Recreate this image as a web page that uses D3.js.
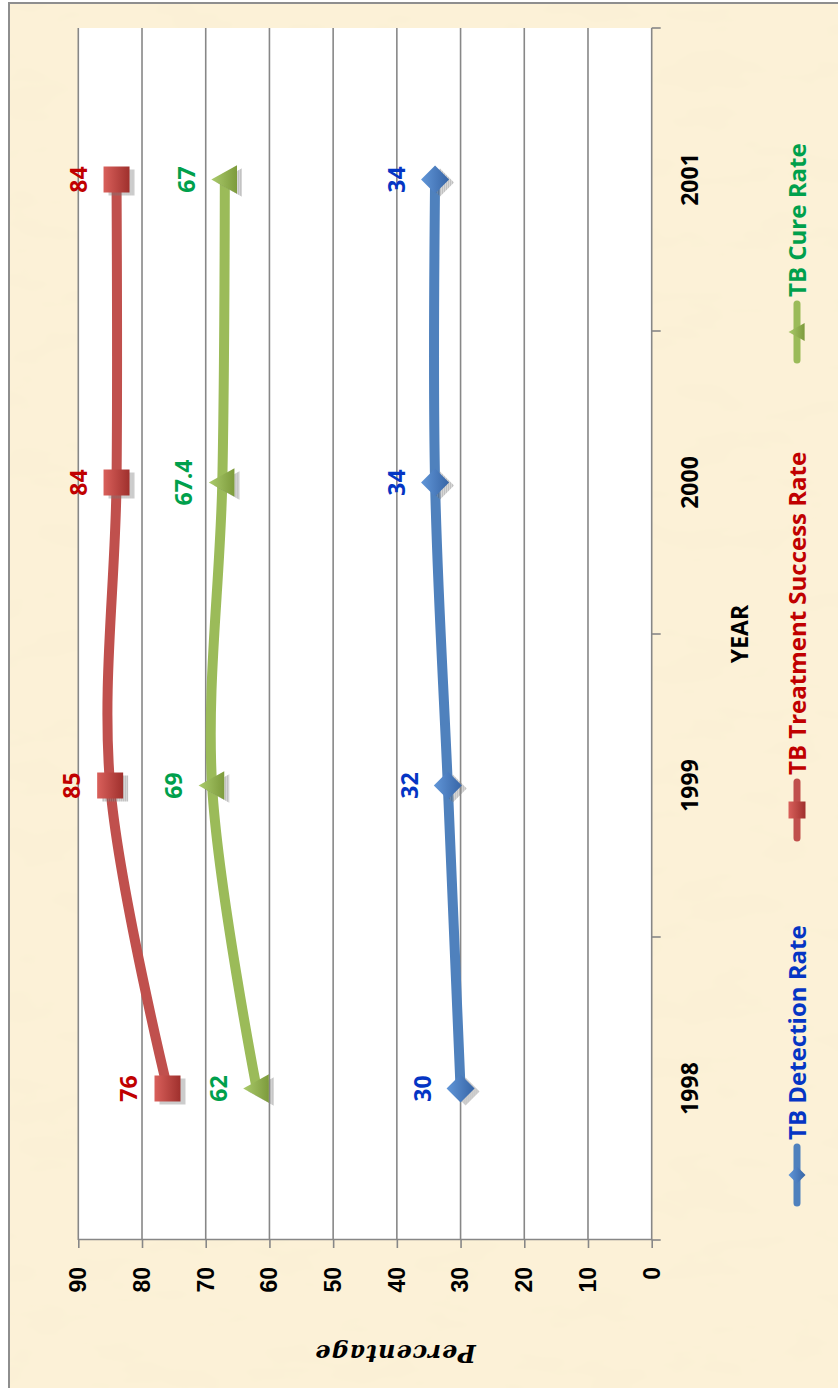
<!DOCTYPE html>
<html>
<head>
<meta charset="utf-8">
<script src="https://cdn.jsdelivr.net/npm/d3@7"></script>
<style>
  body { margin: 0; background: #fff; }
  svg { display: block; }
</style>
</head>
<body>
<div id="chart"></div>
<script>
// data
const years = ['1998', '1999', '2000', '2001'];
const detectionRate = [30, 32, 34, 34];
const treatmentRate = [76, 85, 84, 84];
const cureRate = [62, 69, 67.4, 67];
const seriesNames = ['TB Detection Rate', 'TB Treatment Success Rate', 'TB Cure Rate'];
const valueTicks = [0, 10, 20, 30, 40, 50, 60, 70, 80, 90];

// styles
const lineColors = ['#4f81bd', '#c0504d', '#9bbb59'];
const textColors = ['#0535c4', '#c00000', '#00a04c'];
const gradColors = [['#6196d8', '#3765a6'], ['#d9605b', '#9f302d'], ['#abcb6c', '#7d9b3c']];
const shapes = ['diamond', 'square', 'triangle'];

const series = [detectionRate, treatmentRate, cureRate].map((vals, i) => ({
  name: seriesNames[i],
  points: years.map((yr, j) => ({ year: yr, v: vals[j] })),
  i: i
}));

// the chart is laid out as a normal line chart, then turned a quarter left
const W = 1388, H = 838;
const svg = d3.select('#chart').append('svg')
  .attr('width', H)
  .attr('height', W);

const defs = svg.append('defs');

const paper = defs.append('filter').attr('id', 'paper')
  .attr('x', 0).attr('y', 0).attr('width', '100%').attr('height', '100%');
paper.append('feTurbulence')
  .attr('type', 'fractalNoise')
  .attr('baseFrequency', '0.03 0.012')
  .attr('numOctaves', 3)
  .attr('seed', 7);
paper.append('feColorMatrix')
  .attr('type', 'matrix')
  .attr('values', '0 0 0 0 0.95  0 0 0 0 0.86  0 0 0 0 0.66  1.0 0 0 0 -0.42');

const stipple = defs.append('pattern').attr('id', 'stipple')
  .attr('patternUnits', 'userSpaceOnUse')
  .attr('width', 2).attr('height', 2);
stipple.append('rect').attr('width', 1).attr('height', 1).attr('fill', '#555');
stipple.append('rect').attr('x', 1).attr('y', 1).attr('width', 1).attr('height', 1).attr('fill', '#999');

gradColors.forEach((c, i) => {
  const lg = defs.append('linearGradient').attr('id', 'grad' + i)
    .attr('x1', 0).attr('y1', 0).attr('x2', 0).attr('y2', 1);
  lg.append('stop').attr('offset', '0%').attr('stop-color', c[0]);
  lg.append('stop').attr('offset', '100%').attr('stop-color', c[1]);
});

const g = svg.append('g').attr('transform', `translate(0,${W}) rotate(-90)`);

// background frame
g.append('rect')
  .attr('x', -20).attr('y', 9).attr('width', 1405).attr('height', 860)
  .attr('fill', '#fcf1d7');
g.append('rect')
  .attr('x', -20).attr('y', 9).attr('width', 1405).attr('height', 860)
  .attr('filter', 'url(#paper)');
g.append('rect')
  .attr('x', -20).attr('y', 9).attr('width', 1405).attr('height', 860)
  .attr('fill', 'none')
  .attr('stroke', '#8e8e8e')
  .attr('stroke-width', 2);

const plot = { left: 148, right: 1360, top: 78.3, bottom: 651.7 };

const x = d3.scaleBand().domain(years).range([plot.left, plot.right]);
const y = d3.scaleLinear().domain([0, 90]).range([plot.bottom, plot.top]);
const cx = d => x(d) + x.bandwidth() / 2;

g.append('rect')
  .attr('x', plot.left).attr('y', plot.top)
  .attr('width', plot.right - plot.left).attr('height', plot.bottom - plot.top)
  .attr('fill', '#fff');

// gridlines
g.selectAll('.grid')
  .data(valueTicks.filter(d => d > 0))
  .enter()
  .append('line')
  .attr('class', 'grid')
  .attr('x1', plot.left).attr('x2', plot.right)
  .attr('y1', d => y(d)).attr('y2', d => y(d))
  .attr('stroke', '#878787')
  .attr('stroke-width', 1.6);

// value axis
const yAxis = g.append('g')
  .attr('transform', `translate(${plot.left},0)`)
  .call(d3.axisLeft(y).tickValues(valueTicks).tickSize(8).tickPadding(19).tickSizeOuter(0));
yAxis.select('.domain').attr('stroke', '#878787').attr('stroke-width', 1.6);
yAxis.selectAll('.tick line').attr('stroke', '#878787').attr('stroke-width', 1.6);
yAxis.selectAll('.tick text')
  .attr('fill', '#000')
  .style('font-family', '"Liberation Sans", Arial, sans-serif')
  .style('font-weight', 'bold')
  .style('font-size', '23px');

// category axis, ticks between the years
g.append('line')
  .attr('x1', plot.left).attr('x2', plot.right)
  .attr('y1', plot.bottom).attr('y2', plot.bottom)
  .attr('stroke', '#878787').attr('stroke-width', 1.6);
const bounds = years.map(d => x(d)).concat(plot.right);
g.selectAll('.ctick')
  .data(bounds)
  .enter()
  .append('line')
  .attr('class', 'ctick')
  .attr('x1', d => d).attr('x2', d => d)
  .attr('y1', plot.bottom).attr('y2', plot.bottom + 9)
  .attr('stroke', '#878787').attr('stroke-width', 1.6);

const labelFont = '"Open Sans", Lato, sans-serif';

g.selectAll('.year')
  .data(years)
  .enter()
  .append('text')
  .attr('class', 'year')
  .attr('x', d => cx(d))
  .attr('y', 698)
  .attr('text-anchor', 'middle')
  .style('font-family', labelFont)
  .style('font-weight', 'bold')
  .style('font-size', '23px')
  .text(d => d);

g.append('text')
  .attr('x', (plot.left + plot.right) / 2)
  .attr('y', 748)
  .attr('text-anchor', 'middle')
  .style('font-family', labelFont)
  .style('font-weight', 'bold')
  .style('font-size', '23px')
  .text('YEAR');

// axis title sits a little below the plot middle in the source
g.append('text')
  .attr('transform', 'translate(43,395) rotate(-90)')
  .attr('text-anchor', 'middle')
  .style('font-family', '"DejaVu Serif", serif')
  .style('font-weight', 'bold')
  .style('font-style', 'italic')
  .style('font-size', '24px')
  .style('letter-spacing', '1px')
  .text('Percentage');

// marker shapes
function shapePath(shape, s) {
  if (shape === 'square') return `M${-s},${-s}H${s}V${s}H${-s}Z`;
  if (shape === 'triangle') return `M0,${-s}L${s * 1.05},${s * 0.9}L${-s * 1.05},${s * 0.9}Z`;
  return `M0,${-s}L${s},0L0,${s}L${-s},0Z`;
}
const markerSize = [14, 13, 13.5];

const line = d3.line()
  .x(d => cx(d.year))
  .y(d => y(d.v))
  .curve(d3.curveCardinal.tension(0));

const sg = g.selectAll('.series')
  .data(series)
  .enter()
  .append('g')
  .attr('class', 'series');

sg.append('path')
  .attr('d', d => line(d.points))
  .attr('fill', 'none')
  .attr('stroke', d => lineColors[d.i])
  .attr('stroke-width', 10)
  .attr('stroke-linejoin', 'round');

sg.each(function (s) {
  const grp = d3.select(this);

  grp.selectAll('.shadow')
    .data(s.points)
    .enter()
    .append('path')
    .attr('class', 'shadow')
    .attr('transform', d => `translate(${cx(d.year) - 3},${y(d.v) + 5})`)
    .attr('d', shapePath(shapes[s.i], markerSize[s.i]))
    .attr('fill', 'url(#stipple)')
    .attr('opacity', 0.75);

  grp.selectAll('.marker')
    .data(s.points)
    .enter()
    .append('path')
    .attr('class', 'marker')
    .attr('transform', d => `translate(${cx(d.year)},${y(d.v)})`)
    .attr('d', shapePath(shapes[s.i], markerSize[s.i]))
    .attr('fill', `url(#grad${s.i})`);

  grp.selectAll('.dlabel')
    .data(s.points)
    .enter()
    .append('text')
    .attr('class', 'dlabel')
    .attr('x', d => cx(d.year))
    .attr('y', d => y(d.v) - 30)
    .attr('text-anchor', 'middle')
    .attr('fill', textColors[s.i])
    .style('font-family', labelFont)
    .style('font-weight', 'bold')
    .style('font-size', '23px')
    .text(d => d.v);
});

// legend
const legendX = [185, 550, 1028];
const legendY = 797;
const lg = g.selectAll('.legend')
  .data(series)
  .enter()
  .append('g')
  .attr('class', 'legend')
  .attr('transform', d => `translate(${legendX[d.i]},${legendY})`);

lg.append('line')
  .attr('x1', 0).attr('x2', 56)
  .attr('stroke', d => lineColors[d.i])
  .attr('stroke-width', 7)
  .attr('stroke-linecap', 'round');
lg.append('path')
  .attr('transform', 'translate(28,0)')
  .attr('d', d => shapePath(shapes[d.i], 8.5))
  .attr('fill', d => `url(#grad${d.i})`);
lg.append('text')
  .attr('x', 63)
  .attr('y', 9)
  .attr('fill', d => textColors[d.i])
  .style('font-family', labelFont)
  .style('font-weight', 'bold')
  .style('font-size', '24px')
  .text(d => d.name);
</script>
</body>
</html>
